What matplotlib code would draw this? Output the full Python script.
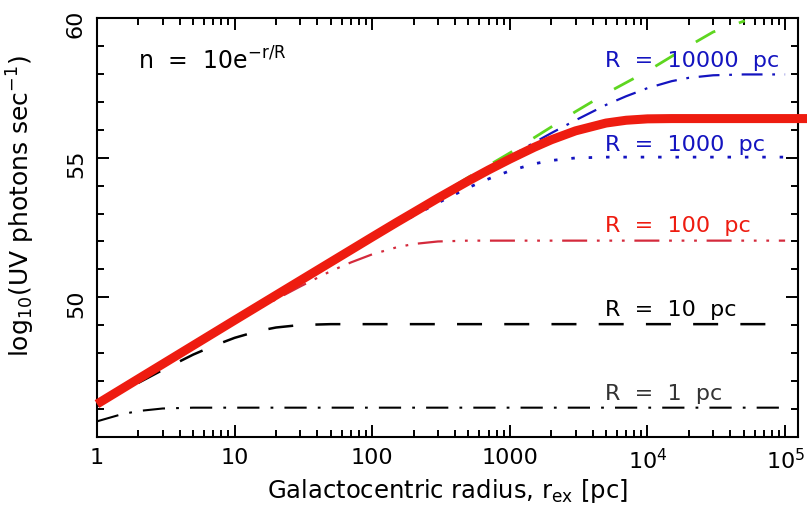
import numpy as np
import matplotlib
matplotlib.use('Agg')
import matplotlib.pyplot as plt
from matplotlib.ticker import LogLocator, FixedLocator, NullFormatter, MultipleLocator

plt.rcParams['font.family'] = 'DejaVu Sans'
plt.rcParams['mathtext.default'] = 'regular'
plt.rcParams['lines.scale_dashes'] = False

# galactocentric radius grid [pc]
r_pc = [1, 1.5, 2, 3, 5, 7, 10, 15, 20, 30, 50, 70, 100, 150, 200, 300, 500,
        700, 1000, 1500, 2000, 3000, 5000, 7000, 1e4, 1.5e4, 2e4, 3e4, 5e4,
        7e4, 1e5]

# log10 Q(UV) for exponential discs n = 10 exp(-r/R)
r_R1 = [1, 1.5, 2, 3, 5, 1e5]
q_R1 = [45.56, 45.81, 45.93, 46.02, 46.05, 46.05]

r_R10 = [1, 1.5, 2, 3, 5, 7, 10, 15, 20, 30, 50, 1e5]
q_R10 = [46.10, 46.60, 46.94, 47.40, 47.95, 48.26, 48.55, 48.80, 48.92,
         49.01, 49.04, 49.04]

r_R100 = [1, 1.5, 2, 3, 5, 7, 10, 15, 20, 30, 50, 70, 100, 150, 200, 300,
          500, 1e5]
q_R100 = [46.15, 46.67, 47.05, 47.57, 48.22, 48.65, 49.09, 49.59, 49.93,
          50.39, 50.94, 51.25, 51.54, 51.79, 51.91, 52.00, 52.03, 52.03]

r_R1000 = [1, 1.5, 2, 3, 5, 7, 10, 15, 20, 30, 50, 70, 100, 150, 200, 300,
           500, 700, 1000, 1500, 2000, 3000, 5000, 1e5]
q_R1000 = [46.14, 46.67, 47.05, 47.57, 48.24, 48.68, 49.14, 49.66, 50.04,
           50.56, 51.21, 51.64, 52.08, 52.58, 52.92, 53.38, 53.93, 54.24,
           54.53, 54.78, 54.90, 54.99, 55.02, 55.02]

q_R10000 = [46.11, 46.63, 47.01, 47.54, 48.20, 48.64, 49.10, 49.63, 50.01,
            50.53, 51.20, 51.64, 52.10, 52.62, 53.00, 53.52, 54.17, 54.60,
            55.04, 55.54, 55.88, 56.34, 56.89, 57.20, 57.49, 57.74, 57.86,
            57.95, 57.98, 57.98, 57.98]

# constant density comparison (green) and the thick red model
r_uni = [100, 500, 1000, 2000, 3000, 5000, 1e4, 2e4, 3e4, 5.1e4]
q_uni = [52.17, 54.3, 55.17, 56.1, 56.65, 57.3, 58.1, 59.0, 59.5, 59.9]

r_thick = [1, 10, 100, 150, 200, 300, 500, 700, 1000, 1500, 2000, 3000,
           5000, 7000, 1e4, 1.5e4, 1.6e5]
q_thick = [46.18, 49.18, 52.16, 52.68, 53.04, 53.55, 54.17, 54.56, 54.95,
           55.37, 55.64, 55.96, 56.24, 56.34, 56.39, 56.40, 56.40]

xticks = [1, 10, 100, 1000, 1e4, 1e5]
xticklabels = ['1', '10', '100', '1000', '10$^4$', '10$^5$']

blue = '#1414c0'
red = '#ee1c10'
red2 = '#d42a3c'
green = '#5ed620'

fig = plt.figure(figsize=(8.07, 5.12), dpi=100)
ax = fig.add_axes([0.1202, 0.1465, 0.8686, 0.8183])

ax.plot(r_R1, q_R1, color='k', lw=1.5, dashes=(16, 8, 2, 8))
ax.plot(r_R10, q_R10, color='k', lw=1.8, dashes=(18, 16))
ax.plot(r_R100, q_R100, color=red2, lw=1.6,
        dashes=(18, 7, 2, 7, 2, 7, 2, 7))
ax.plot(r_R1000, q_R1000, color=blue, lw=2.0, dashes=(2.5, 10))
ax.plot(r_pc, q_R10000, color=blue, lw=1.6, dashes=(15, 7, 2, 7))
ax.plot(r_uni, q_uni, color=green, lw=2.0, dashes=(16, 18))
ax.plot(r_thick, q_thick, color=red, lw=6.5, solid_capstyle='butt',
        clip_on=False, zorder=5)

ax.set_xscale('log')
ax.set_xlim(1, 1.24e5)
ax.set_ylim(45, 60)
ax.xaxis.set_major_locator(FixedLocator(xticks))
ax.set_xticklabels(xticklabels)
ax.xaxis.set_minor_locator(LogLocator(base=10, subs=np.arange(2, 10) * 1.0, numticks=20))
ax.xaxis.set_minor_formatter(NullFormatter())
ax.yaxis.set_major_locator(FixedLocator([50, 55, 60]))
ax.yaxis.set_minor_locator(MultipleLocator(1))

for s in ax.spines.values():
    s.set_linewidth(1.5)
ax.tick_params(which='both', direction='in', top=True, right=True, width=1.4)
ax.tick_params(which='major', length=8.5, labelsize=16, pad=8)
ax.tick_params(which='minor', length=5)
ax.tick_params(axis='y', labelrotation=90)

ax.set_xlabel('Galactocentric radius, r$_{ex}$ [pc]', fontsize=17.5, labelpad=3)
ax.set_ylabel('log$_{10}$(UV photons sec$^{-1}$)', fontsize=18)
ax.yaxis.set_label_coords(-0.085, 0.55)

ax.text(2.0, 58.14, 'n  =  10e$^{-r/R}$', fontsize=17)
ax.text(4900, 58.24, 'R  =  10000  pc', color=blue, fontsize=16)
ax.text(4900, 55.23, 'R  =  1000  pc', color=blue, fontsize=16)
ax.text(4900, 52.33, 'R  =  100  pc', color=red, fontsize=16)
ax.text(4900, 49.32, 'R  =  10  pc', color='k', fontsize=16)
ax.text(4900, 46.34, 'R  =  1  pc', color='#333333', fontsize=16)

fig.savefig('out.png', dpi=100)
